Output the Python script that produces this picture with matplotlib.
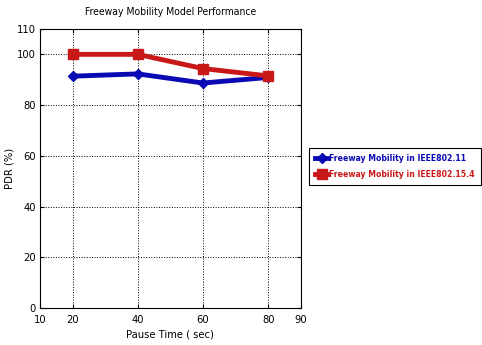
import matplotlib
matplotlib.use('Agg')
import matplotlib.pyplot as plt
from matplotlib import font_manager

# data
pause_time = [20, 40, 60, 80]
pdr_80211 = [91.4, 92.3, 88.7, 90.9]
pdr_802154 = [100.0, 100.0, 94.4, 91.5]
xticks = [10, 20, 40, 60, 80, 90]
yticks = [0, 20, 40, 60, 80, 100, 110]

names = {f.name for f in font_manager.fontManager.ttflist}
narrow = 'Liberation Sans Narrow' if 'Liberation Sans Narrow' in names else 'DejaVu Sans'
plt.rcParams['font.family'] = [narrow, 'DejaVu Sans']
plt.rcParams['font.stretch'] = 'condensed'

fig = plt.figure(figsize=(4.82, 3.45), dpi=100)
ax = fig.add_axes([0.083, 0.107, 0.541, 0.809])

blue = '#0a0ab4'
red = '#c81818'
ax.plot(pause_time, pdr_80211, color=blue, lw=3.5, marker='D', ms=5,
        label='Freeway Mobility in IEEE802.11')
ax.plot(pause_time, pdr_802154, color=red, lw=3.5, marker='s', ms=7,
        label='Freeway Mobility in IEEE802.15.4')

ax.set_xlim(10, 90)
ax.set_ylim(0, 110)
ax.set_xticks(xticks)
ax.set_yticks(yticks)
ax.tick_params(direction='in', top=True, right=True, labelsize=8, length=3)
ax.tick_params(axis='x', pad=5)
ax.tick_params(axis='y', pad=3)
ax.grid(True, linestyle=':', color='black', lw=0.7)
for s in ax.spines.values():
    s.set_linewidth(0.8)

ax.set_title('Freeway Mobility Model Performance', fontsize=7.5, pad=10)
ax.set_xlabel('Pause Time ( sec)', fontsize=8, labelpad=3)
ax.set_ylabel('PDR (%)', fontsize=8, labelpad=2)

# legend must fit between x=309 and the right edge of the picture
size = 10.0
while True:
    leg = ax.legend(loc='upper left', bbox_to_anchor=(0.641, 0.571),
                    bbox_transform=fig.transFigure, borderaxespad=0,
                    fancybox=False, edgecolor='black', framealpha=1,
                    prop={'size': size, 'weight': 'semibold'}, handlelength=1.5,
                    handletextpad=0.15, borderpad=0.7, labelspacing=0.75)
    fig.canvas.draw()
    if leg.get_window_extent().x1 <= 483 or size < 5:
        break
    size -= 0.25
leg.get_frame().set_linewidth(0.8)
for t, c in zip(leg.get_texts(), [blue, red]):
    t.set_color(c)

fig.savefig('out.png', dpi=100)
